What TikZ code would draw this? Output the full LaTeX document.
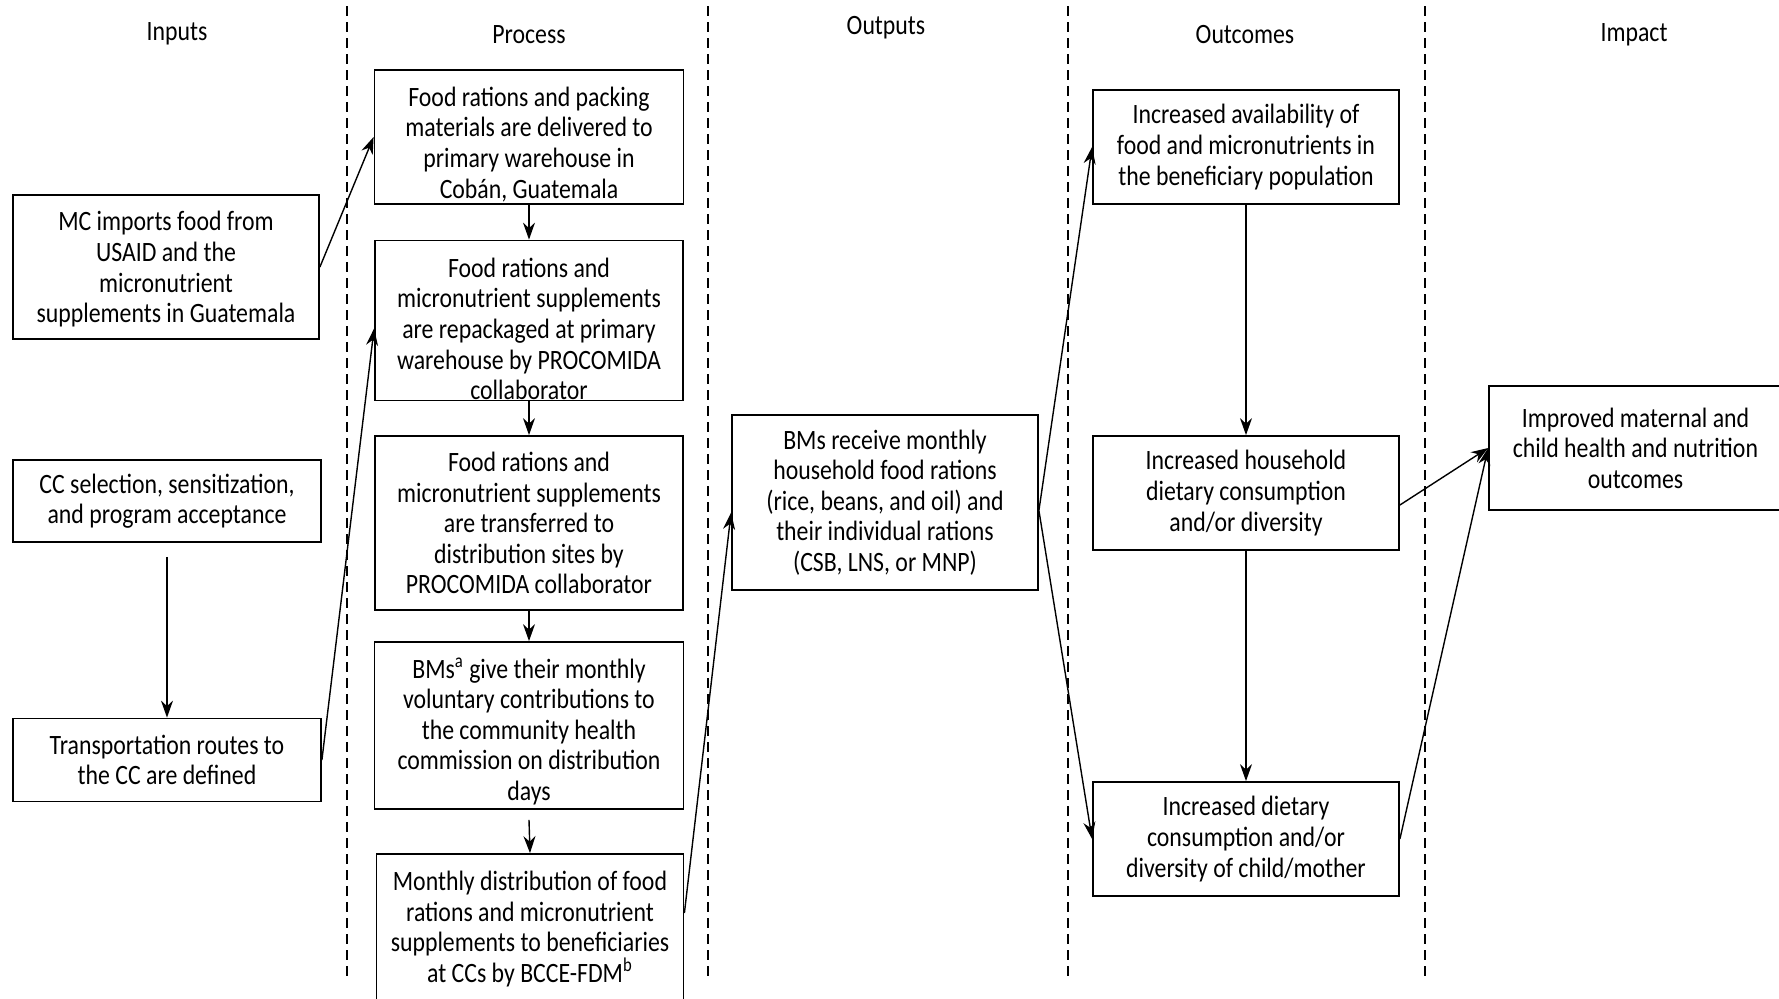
\documentclass[tikz,border=0pt]{standalone}
\usepackage{fontspec}
\setmainfont[FakeStretch=0.85]{Carlito}
\usetikzlibrary{arrows.meta}
\newcommand{\boxfont}{\fontsize{14}{15.3}\selectfont}
\tikzset{
  stagebox/.style={draw, line width=0.9pt, align=center, inner sep=0pt, font=\boxfont},
  header/.style={font=\boxfont, inner sep=0pt},
  conn/.style={line width=0.7pt, -{Stealth[length=8.5pt,width=6pt]}},
  sep/.style={line width=0.6pt, dash pattern=on 5pt off 3pt}
}
\begin{document}
\begin{tikzpicture}[x=0.5pt,y=-0.5pt]
\useasboundingbox (0,0) rectangle (1779,998);
% column separators
\draw[sep] (347,6) -- (347,981);
\draw[sep] (708,6) -- (708,981);
\draw[sep] (1068,6) -- (1068,981);
\draw[sep] (1425,6) -- (1425,981);
% headers
\node[header] (hIn) at (177,33.5) {Inputs};
\node[header] (hPr) at (529,34.5) {Process};
\node[header] (hOut) at (886,27.5) {Outputs};
\node[header] (hOc) at (1245,34.5) {Outcomes};
\node[header] (hIm) at (1634,34.5) {Impact};
% inputs
\node[stagebox, minimum width=153pt, minimum height=72pt] (A1) at (166,267)
  {\rule{0pt}{12pt}MC imports food from\\USAID and the\\micronutrient\\supplements in Guatemala};
\node[stagebox, minimum width=154pt, minimum height=41pt] (A2) at (167,501)
  {CC selection, sensitization,\\and program acceptance};
\node[stagebox, minimum width=154pt, minimum height=41.5pt] (A3) at (167,760)
  {Transportation routes to\\the CC are defined};
% process
\node[stagebox, minimum width=154.5pt, minimum height=67pt] (P1) at (529,137)
  {\rule{0pt}{17pt}Food rations and packing\\materials are delivered to\\primary warehouse in\\Cob\'an, Guatemala};
\node[stagebox, minimum width=154pt, minimum height=80pt] (P2) at (529,320.5)
  {\rule{0pt}{18pt}Food rations and\\micronutrient supplements\\are repackaged at primary\\warehouse by PROCOMIDA\\collaborator};
\node[stagebox, minimum width=154pt, minimum height=87pt] (P3) at (529,523)
  {Food rations and\\micronutrient supplements\\are transferred to\\distribution sites by\\PROCOMIDA collaborator};
\node[stagebox, minimum width=154.5pt, minimum height=83.5pt] (P4) at (529,725.5)
  {\rule{0pt}{16pt}BMs\textsuperscript{a} give their monthly\\voluntary contributions to\\the community health\\commission on distribution\\days};
\node[stagebox, minimum width=153.5pt, minimum height=75pt] (P5) at (530,929)
  {Monthly distribution of food\\rations and micronutrient\\supplements to beneficiaries\\at CCs by BCCE-FDM\textsuperscript{b}};
% outputs
\node[stagebox, minimum width=153pt, minimum height=87.5pt] (O1) at (885,502.5)
  {BMs receive monthly\\household food rations\\(rice, beans, and oil) and\\their individual rations\\(CSB, LNS, or MNP)};
% outcomes
\node[stagebox, minimum width=153pt, minimum height=57pt] (C1) at (1246,147)
  {Increased availability of\\food and micronutrients in\\the beneficiary population};
\node[stagebox, minimum width=153pt, minimum height=57pt] (C2) at (1246,493)
  {Increased household\\dietary consumption\\and/or diversity};
\node[stagebox, minimum width=153pt, minimum height=57pt] (C3) at (1246,839)
  {Increased dietary\\consumption and/or\\diversity of child/mother};
% impact
\node[stagebox, minimum width=146.5pt, minimum height=62pt] (I1) at (1635.5,448)
  {Improved maternal and\\child health and nutrition\\outcomes};
% connectors
\draw[conn] (A1.east) -- (P1.west);
\draw[conn] (A3.east) -- ([yshift=-4pt]P2.west);
\draw[conn] ([yshift=-7pt]A2.south) -- (A3.north);
\draw[conn] (P1.south) -- (P2.north);
\draw[conn] (P2.south) -- (P3.north);
\draw[conn] (P3.south) -- (P4.north);
\draw[conn] ([yshift=-5pt]P4.south) -- (P5.north);
\draw[conn] ([yshift=8pt]P5.east) -- ([yshift=-5pt]O1.west);
\draw[conn] ([yshift=-4pt]O1.east) -- (C1.west);
\draw[conn] ([yshift=-4pt]O1.east) -- (C3.west);
\draw[conn] (C1.south) -- (C2.north);
\draw[conn] (C2.south) -- (C3.north);
\draw[conn] ([yshift=-6pt]C2.east) -- (I1.west);
\draw[conn] (C3.east) -- (I1.west);
\end{tikzpicture}
\end{document}
